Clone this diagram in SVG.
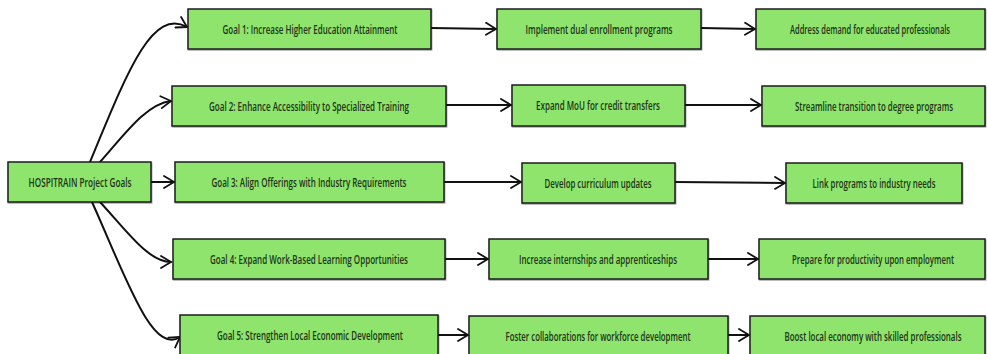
<svg xmlns="http://www.w3.org/2000/svg" width="987" height="354" viewBox="0 0 987 354">
  <defs>
    <marker id="arrow" viewBox="0 0 12 14" refX="11" refY="7" markerWidth="12" markerHeight="14" markerUnits="userSpaceOnUse" orient="auto">
      <path d="M1 1 L11 7 L1 13" fill="none" stroke="#111" stroke-width="1.8" stroke-linecap="round" stroke-linejoin="round"/>
    </marker>
    <filter id="soft" x="-5%" y="-20%" width="110%" height="140%">
      <feDropShadow dx="0.6" dy="1" stdDeviation="0.6" flood-color="#000" flood-opacity="0.35"/>
    </filter>
  </defs>
  <style>
    .box { fill: #8ee46c; stroke: #1c1c1c; stroke-width: 1.5; filter: url(#soft); }
    /* condensed labels: narrowed with a horizontal scale of 0.7 */
    .lbl { font-family: "Open Sans", "DejaVu Sans", sans-serif; font-size: 12.5px; font-weight: 600; fill: #1f3518; text-anchor: middle; dominant-baseline: central; }
    .edge { fill: none; stroke: #111; stroke-width: 2; stroke-linecap: round; marker-end: url(#arrow); }
  </style>
  <rect width="987" height="354" fill="#ffffff"/>

  <!-- connectors -->
  <g id="connectors">
    <path class="edge" d="M90 162 C128 70 152 8 187 27"/>
    <path class="edge" d="M100 162 C125 134 146 104 171 101"/>
    <path class="edge" d="M151 182 L174 182"/>
    <path class="edge" d="M100 202 C126 230 148 262 171 262"/>
    <path class="edge" d="M92 202 C125 275 152 356 180 337"/>

    <path class="edge" d="M431 28 L496 29"/>
    <path class="edge" d="M701 28 L755 29"/>

    <path class="edge" d="M446 105 L511 105"/>
    <path class="edge" d="M685 105 L761 105"/>

    <path class="edge" d="M444 182 L521 182"/>
    <path class="edge" d="M675 182 L785 183"/>

    <path class="edge" d="M445 259 L488 259"/>
    <path class="edge" d="M708 259 L758 259"/>

    <path class="edge" d="M438 335 L468 335"/>
    <path class="edge" d="M728 335 L749 335"/>
  </g>

  <!-- root -->
  <g id="root">
    <rect class="box" x="8" y="162" width="143" height="40"/>
    <text class="lbl" transform="translate(80 182) scale(0.7 1)" textLength="147.1" lengthAdjust="spacingAndGlyphs">HOSPITRAIN Project Goals</text>
  </g>

  <!-- goals -->
  <g id="goal1">
    <rect class="box" x="188" y="9" width="243" height="40"/>
    <text class="lbl" transform="translate(310 29) scale(0.7 1)" textLength="250" lengthAdjust="spacingAndGlyphs">Goal 1: Increase Higher Education Attainment</text>
  </g>
  <g id="goal2">
    <rect class="box" x="172" y="86" width="274" height="40"/>
    <text class="lbl" transform="translate(309 106) scale(0.7 1)" textLength="285.7" lengthAdjust="spacingAndGlyphs">Goal 2: Enhance Accessibility to Specialized Training</text>
  </g>
  <g id="goal3">
    <rect class="box" x="175" y="162" width="269" height="40"/>
    <text class="lbl" transform="translate(309 182) scale(0.7 1)" textLength="278.6" lengthAdjust="spacingAndGlyphs">Goal 3: Align Offerings with Industry Requirements</text>
  </g>
  <g id="goal4">
    <rect class="box" x="173" y="239" width="272" height="40"/>
    <text class="lbl" transform="translate(309 259) scale(0.7 1)" textLength="282.9" lengthAdjust="spacingAndGlyphs">Goal 4: Expand Work-Based Learning Opportunities</text>
  </g>
  <g id="goal5">
    <rect class="box" x="180" y="315" width="258" height="42"/>
    <text class="lbl" transform="translate(310 335) scale(0.7 1)" textLength="265.7" lengthAdjust="spacingAndGlyphs">Goal 5: Strengthen Local Economic Development</text>
  </g>

  <!-- actions -->
  <g id="action1">
    <rect class="box" x="497" y="9" width="204" height="40"/>
    <text class="lbl" transform="translate(599 29) scale(0.7 1)" textLength="210" lengthAdjust="spacingAndGlyphs">Implement dual enrollment programs</text>
  </g>
  <g id="action2">
    <rect class="box" x="512" y="85" width="173" height="41"/>
    <text class="lbl" transform="translate(598 105) scale(0.7 1)" textLength="177.1" lengthAdjust="spacingAndGlyphs">Expand MoU for credit transfers</text>
  </g>
  <g id="action3">
    <rect class="box" x="522" y="163" width="153" height="40"/>
    <text class="lbl" transform="translate(598 183) scale(0.7 1)" textLength="152.9" lengthAdjust="spacingAndGlyphs">Develop curriculum updates</text>
  </g>
  <g id="action4">
    <rect class="box" x="489" y="239" width="219" height="40"/>
    <text class="lbl" transform="translate(598 259) scale(0.7 1)" textLength="225.7" lengthAdjust="spacingAndGlyphs">Increase internships and apprenticeships</text>
  </g>
  <g id="action5">
    <rect class="box" x="469" y="316" width="259" height="41"/>
    <text class="lbl" transform="translate(598 336) scale(0.7 1)" textLength="264.3" lengthAdjust="spacingAndGlyphs">Foster collaborations for workforce development</text>
  </g>

  <!-- outcomes -->
  <g id="outcome1">
    <rect class="box" x="756" y="9" width="229" height="40"/>
    <text class="lbl" transform="translate(870 29) scale(0.7 1)" textLength="228.6" lengthAdjust="spacingAndGlyphs">Address demand for educated professionals</text>
  </g>
  <g id="outcome2">
    <rect class="box" x="762" y="86" width="223" height="40"/>
    <text class="lbl" transform="translate(874 106) scale(0.7 1)" textLength="225.7" lengthAdjust="spacingAndGlyphs">Streamline transition to degree programs</text>
  </g>
  <g id="outcome3">
    <rect class="box" x="786" y="163" width="176" height="40"/>
    <text class="lbl" transform="translate(874 183) scale(0.7 1)" textLength="175.7" lengthAdjust="spacingAndGlyphs">Link programs to industry needs</text>
  </g>
  <g id="outcome4">
    <rect class="box" x="759" y="239" width="226" height="40"/>
    <text class="lbl" transform="translate(873 259) scale(0.7 1)" textLength="231.4" lengthAdjust="spacingAndGlyphs">Prepare for productivity upon employment</text>
  </g>
  <g id="outcome5">
    <rect class="box" x="750" y="316" width="235" height="41"/>
    <text class="lbl" transform="translate(873 336) scale(0.7 1)" textLength="252.9" lengthAdjust="spacingAndGlyphs">Boost local economy with skilled professionals</text>
  </g>
</svg>
